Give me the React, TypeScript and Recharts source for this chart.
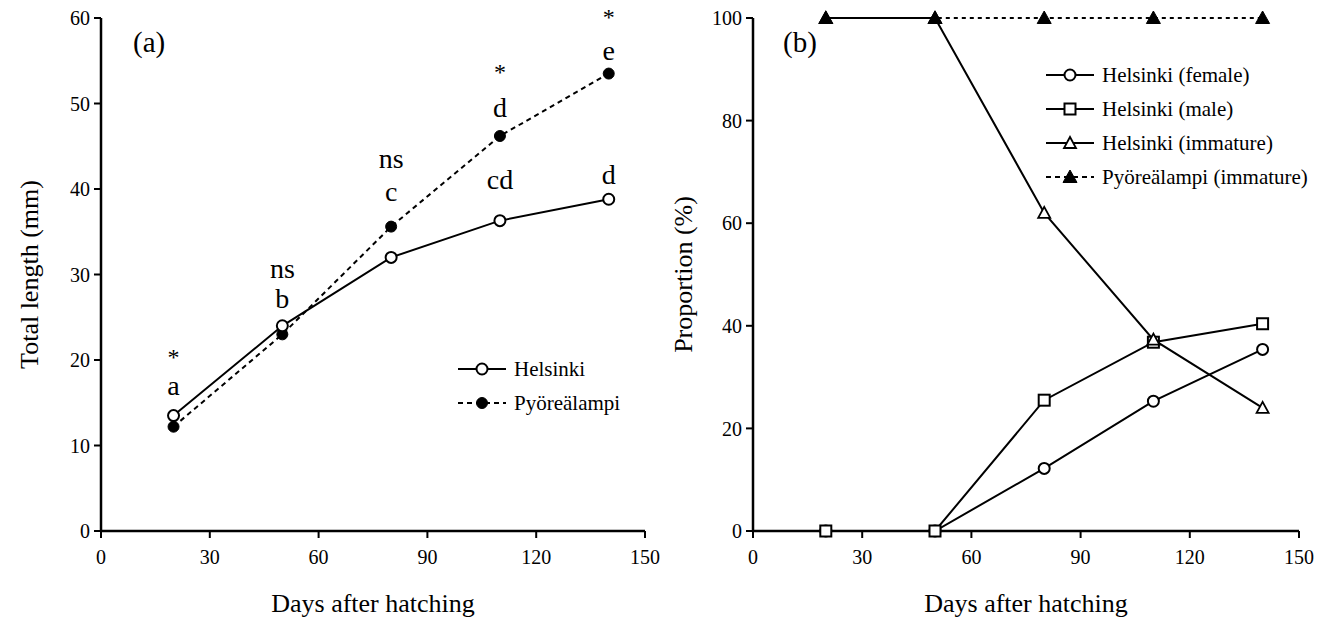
import React from 'react';
import {
  LineChart,
  Line,
  XAxis,
  YAxis,
  ReferenceDot,
} from 'recharts';

// sampling days (x positions of every point)
const days = [20, 50, 80, 110, 140];
const dayTicks = [0, 30, 60, 90, 120, 150];

// (a) total length, mm
const helsinkiLength = [13.5, 24, 32, 36.3, 38.8];
const pyoreLength = [12.2, 23, 35.6, 46.2, 53.5];
const lengthTicks = [0, 10, 20, 30, 40, 50, 60];

// (a) annotations above the points
const sigMarks = ['*', 'ns', 'ns', '*', '*'];
const sigMarkY = [20.4, 30.8, 43.6, 53.8, 60.2];
const pyoreLetters = ['a', 'b', 'c', 'd', 'e'];
const pyoreLetterY = [17.1, 27.3, 39.8, 49.6, 56.3];
const helsinkiLetters = ['', '', '', 'cd', 'd'];
const helsinkiLetterY = [0, 0, 0, 41.2, 41.7];

// (b) proportion, %
const femalePct = [0, 0, 12.2, 25.3, 35.4];
const malePct = [0, 0, 25.5, 36.8, 40.4];
const helsinkiImmaturePct = [100, 100, 62, 37.3, 24];
const pyoreImmaturePct = [100, 100, 100, 100, 100];
const pctTicks = [0, 20, 40, 60, 80, 100];

const lengthData = days.map((day, i) => ({
  day,
  helsinki: helsinkiLength[i],
  pyore: pyoreLength[i],
}));

const pctData = days.map((day, i) => ({
  day,
  female: femalePct[i],
  male: malePct[i],
  helsinkiImm: helsinkiImmaturePct[i],
  pyoreImm: pyoreImmaturePct[i],
}));

const FONT = "'Liberation Serif', 'Times New Roman', serif";
const tickStyle = { fill: '#000', fontSize: 20, fontFamily: FONT };

type MarkerKind = 'openCircle' | 'filledCircle' | 'openSquare' | 'openTriangle' | 'filledTriangle';

function Marker({ kind, cx, cy }: { kind: MarkerKind; cx: number; cy: number }) {
  switch (kind) {
    case 'openCircle':
      return <circle cx={cx} cy={cy} r={5.5} fill="#fff" stroke="#000" strokeWidth={2} />;
    case 'filledCircle':
      return <circle cx={cx} cy={cy} r={5.5} fill="#000" stroke="#000" strokeWidth={1} />;
    case 'openSquare':
      return <rect x={cx - 5.5} y={cy - 5.5} width={11} height={11} fill="#fff" stroke="#000" strokeWidth={2} />;
    case 'openTriangle':
      return (
        <polygon
          points={`${cx},${cy - 6} ${cx - 6},${cy + 5} ${cx + 6},${cy + 5}`}
          fill="#fff"
          stroke="#000"
          strokeWidth={1.8}
        />
      );
    default:
      return (
        <polygon
          points={`${cx},${cy - 7} ${cx - 7},${cy + 5.5} ${cx + 7},${cy + 5.5}`}
          fill="#000"
          stroke="#000"
          strokeWidth={1}
        />
      );
  }
}

const dotOf = (kind: MarkerKind) => (props: any) =>
  <Marker key={`${kind}-${props.index}`} kind={kind} cx={props.cx} cy={props.cy} />;

interface LegendItem {
  label: string;
  dashed: boolean;
  marker: MarkerKind;
}

const lengthLegend: LegendItem[] = [
  { label: 'Helsinki', dashed: false, marker: 'openCircle' },
  { label: 'Pyöreälampi', dashed: true, marker: 'filledCircle' },
];

const pctLegend: LegendItem[] = [
  { label: 'Helsinki (female)', dashed: false, marker: 'openCircle' },
  { label: 'Helsinki (male)', dashed: false, marker: 'openSquare' },
  { label: 'Helsinki (immature)', dashed: false, marker: 'openTriangle' },
  { label: 'Pyöreälampi (immature)', dashed: true, marker: 'filledTriangle' },
];

function LegendBox({ items, left, top }: { items: LegendItem[]; left: number; top: number }) {
  return (
    <div style={{ position: 'absolute', left, top, fontFamily: FONT, fontSize: 21, color: '#000' }}>
      {items.map((it) => (
        <div key={it.label} style={{ display: 'flex', alignItems: 'center', height: 34 }}>
          <svg width={52} height={20} style={{ marginRight: 6 }}>
            <line
              x1={2}
              x2={50}
              y1={10}
              y2={10}
              stroke="#000"
              strokeWidth={2}
              strokeDasharray={it.dashed ? '5 4' : undefined}
            />
            <Marker kind={it.marker} cx={26} cy={10} />
          </svg>
          <span>{it.label}</span>
        </div>
      ))}
    </div>
  );
}

const axisLine = { stroke: '#000', strokeWidth: 2.5 };
const tickLine = { stroke: '#000', strokeWidth: 2 };

function PanelTag({ text, left }: { text: string; left: number }) {
  return (
    <div
      style={{
        position: 'absolute',
        left,
        top: 28,
        fontFamily: FONT,
        fontSize: 29,
        color: '#000',
        lineHeight: 1,
      }}
    >
      {text}
    </div>
  );
}

function Annotation({ x, y, text, size }: { x: number; y: number; text: string; size: number }) {
  return (
    <ReferenceDot
      key={`${text}-${x}-${y}`}
      x={x}
      y={y}
      r={0}
      fill="none"
      stroke="none"
      ifOverflow="visible"
      label={{ value: text, position: 'center', fontSize: size, fill: '#000', fontFamily: FONT }}
    />
  );
}

export default function App() {
  return (
    <div
      style={{
        position: 'absolute',
        left: 0,
        top: 0,
        width: 1339,
        height: 621,
        background: '#fff',
        display: 'flex',
        fontFamily: FONT,
      }}
    >
      {/* (a) total length */}
      <LineChart width={660} height={621} data={lengthData} margin={{ top: 18, right: 15, bottom: 0, left: 0 }}>
        <XAxis
          dataKey="day"
          type="number"
          domain={[0, 150]}
          ticks={dayTicks}
          axisLine={axisLine}
          tickLine={tickLine}
          tickSize={7}
          tickMargin={12}
          tick={tickStyle}
          height={90}
          label={{ value: 'Days after hatching', position: 'insideBottom', offset: 9, fontSize: 26, fill: '#000', fontFamily: FONT }}
        />
        <YAxis
          type="number"
          domain={[0, 60]}
          ticks={lengthTicks}
          axisLine={axisLine}
          tickLine={tickLine}
          tickSize={7}
          tickMargin={4}
          tick={tickStyle}
          width={101}
          label={{
            value: 'Total length (mm)',
            angle: -90,
            position: 'insideLeft',
            offset: 29,
            fontSize: 26,
            fill: '#000',
            fontFamily: FONT,
            style: { textAnchor: 'middle' },
          }}
        />
        <Line
          dataKey="pyore"
          stroke="#000"
          strokeWidth={2}
          strokeDasharray="5 4"
          dot={dotOf('filledCircle')}
          activeDot={false}
          isAnimationActive={false}
        />
        <Line
          dataKey="helsinki"
          stroke="#000"
          strokeWidth={2}
          dot={dotOf('openCircle')}
          activeDot={false}
          isAnimationActive={false}
        />
        {days.map((d, i) => Annotation({ x: d, y: sigMarkY[i], text: sigMarks[i], size: sigMarks[i] === '*' ? 24 : 28 }))}
        {days.map((d, i) => Annotation({ x: d, y: pyoreLetterY[i], text: pyoreLetters[i], size: 28 }))}
        {days.map((d, i) =>
          helsinkiLetters[i] ? Annotation({ x: d, y: helsinkiLetterY[i], text: helsinkiLetters[i], size: 28 }) : null,
        )}
      </LineChart>

      {/* (b) proportion */}
      <LineChart width={679} height={621} data={pctData} margin={{ top: 18, right: 40, bottom: 0, left: 0 }}>
        <XAxis
          dataKey="day"
          type="number"
          domain={[0, 150]}
          ticks={dayTicks}
          axisLine={axisLine}
          tickLine={tickLine}
          tickSize={7}
          tickMargin={12}
          tick={tickStyle}
          height={90}
          label={{ value: 'Days after hatching', position: 'insideBottom', offset: 9, fontSize: 26, fill: '#000', fontFamily: FONT }}
        />
        <YAxis
          type="number"
          domain={[0, 100]}
          ticks={pctTicks}
          axisLine={axisLine}
          tickLine={tickLine}
          tickSize={7}
          tickMargin={4}
          tick={tickStyle}
          width={93}
          label={{
            value: 'Proportion (%)',
            angle: -90,
            position: 'insideLeft',
            offset: 23,
            fontSize: 26,
            fill: '#000',
            fontFamily: FONT,
            style: { textAnchor: 'middle' },
          }}
        />
        <Line dataKey="female" stroke="#000" strokeWidth={2} dot={dotOf('openCircle')} activeDot={false} isAnimationActive={false} />
        <Line dataKey="male" stroke="#000" strokeWidth={2} dot={dotOf('openSquare')} activeDot={false} isAnimationActive={false} />
        <Line dataKey="helsinkiImm" stroke="#000" strokeWidth={2} dot={dotOf('openTriangle')} activeDot={false} isAnimationActive={false} />
        <Line
          dataKey="pyoreImm"
          stroke="#000"
          strokeWidth={2}
          strokeDasharray="4 4"
          dot={dotOf('filledTriangle')}
          activeDot={false}
          isAnimationActive={false}
        />
      </LineChart>

      <LegendBox items={lengthLegend} left={456} top={352} />
      <LegendBox items={pctLegend} left={1044} top={58} />
      <PanelTag text="(a)" left={133} />
      <PanelTag text="(b)" left={783} />
    </div>
  );
}
